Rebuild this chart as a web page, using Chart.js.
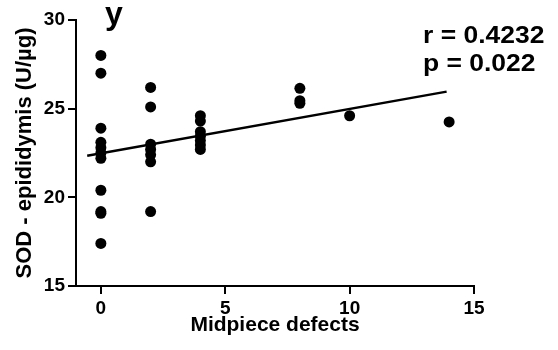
<!DOCTYPE html>
<html>
<head>
<meta charset="utf-8">
<script src="https://cdn.jsdelivr.net/npm/chart.js@4/dist/chart.umd.min.js"></script>
<style>
  html, body { margin: 0; padding: 0; background: #fff; }
  canvas { display: block; }
</style>
</head>
<body>
<canvas id="chart" width="558" height="350"></canvas>
<script>
// values
const defectsX = [0, 0, 0, 0, 0, 0, 0, 0, 0, 0, 0,
                  2, 2, 2, 2, 2, 2, 2,
                  4, 4, 4, 4, 4, 4, 4,
                  8, 8, 8,
                  10,
                  14];
const sodY = [28.0, 27.0, 23.9, 23.1, 22.8, 22.5, 22.2, 20.4, 19.2, 19.1, 17.4,
              26.2, 25.1, 23.0, 22.7, 22.4, 22.0, 19.2,
              24.6, 24.3, 23.7, 23.45, 23.2, 22.95, 22.7,
              26.15, 25.45, 25.3,
              24.6,
              24.25];

// regression line ends
const fitX = [-0.55, 13.9];
const fitY = [22.35, 25.96];

const xTicks = [0, 5, 10, 15];
const yTicks = [15, 20, 25, 30];

const panelLabel = "y";
const statLines = ["r = 0.4232", "p = 0.022"];

const FONT = "'Liberation Sans', Arial, sans-serif";

Chart.defaults.font.family = FONT;
Chart.defaults.font.weight = "bold";
Chart.defaults.font.size = 19;
Chart.defaults.color = "#000";

const labelsPlugin = {
  id: "labels",
  afterDraw(chart) {
    const ctx = chart.ctx;
    ctx.save();
    ctx.fillStyle = "#000";
    ctx.textBaseline = "alphabetic";
    ctx.textAlign = "left";
    ctx.font = "bold 32px " + FONT;
    ctx.fillText(panelLabel, 105, 24);

    ctx.font = "bold 23px " + FONT;
    ctx.translate(423, 0);
    ctx.scale(1.15, 1);
    ctx.fillText(statLines[0], 0, 43);
    ctx.fillText(statLines[1], 0, 71);
    ctx.restore();
  }
};

const points = defectsX.map((x, i) => ({ x: x, y: sodY[i] }));
const fitLine = fitX.map((x, i) => ({ x: x, y: fitY[i] }));

const tickFont = { family: FONT, size: 19, weight: "bold" };

new Chart(document.getElementById("chart").getContext("2d"), {
  type: "scatter",
  data: {
    datasets: [
      {
        data: points,
        backgroundColor: "#000",
        borderWidth: 0,
        pointRadius: 5.5,
        pointHoverRadius: 5.5
      },
      {
        type: "line",
        data: fitLine,
        borderColor: "#000",
        borderWidth: 2.5,
        pointRadius: 0,
        fill: false
      }
    ]
  },
  options: {
    responsive: false,
    animation: false,
    devicePixelRatio: 1,
    layout: {
      padding: { top: 20, right: 84, bottom: 0, left: 0 }
    },
    plugins: {
      legend: { display: false },
      tooltip: { enabled: false }
    },
    scales: {
      x: {
        type: "linear",
        min: -1,
        max: 15,
        afterBuildTicks: (scale) => {
          scale.ticks = xTicks.map((v) => ({ value: v }));
        },
        afterFit: (scale) => { scale.height = 64; },
        border: { display: true, color: "#000", width: 2 },
        grid: { drawOnChartArea: false, drawTicks: true, tickLength: 8, color: "#000", lineWidth: 2 },
        ticks: { color: "#000", padding: 3, font: () => tickFont },
        title: {
          display: true,
          text: "Midpiece defects",
          color: "#000",
          padding: { top: 0, bottom: 12 },
          font: { family: FONT, size: 21, weight: "bold" }
        }
      },
      y: {
        min: 15,
        max: 30,
        afterBuildTicks: (scale) => {
          scale.ticks = yTicks.map((v) => ({ value: v }));
        },
        afterFit: (scale) => { scale.width = 76; },
        border: { display: true, color: "#000", width: 2 },
        grid: { drawOnChartArea: false, drawTicks: true, tickLength: 8, color: "#000", lineWidth: 2 },
        ticks: { color: "#000", padding: 3, font: () => tickFont },
        title: {
          display: true,
          text: "SOD - epididymis (U/µg)",
          color: "#000",
          padding: { top: 12, bottom: 0 },
          font: { family: FONT, size: 22, weight: "bold" }
        }
      }
    }
  },
  plugins: [labelsPlugin]
});
</script>
</body>
</html>
